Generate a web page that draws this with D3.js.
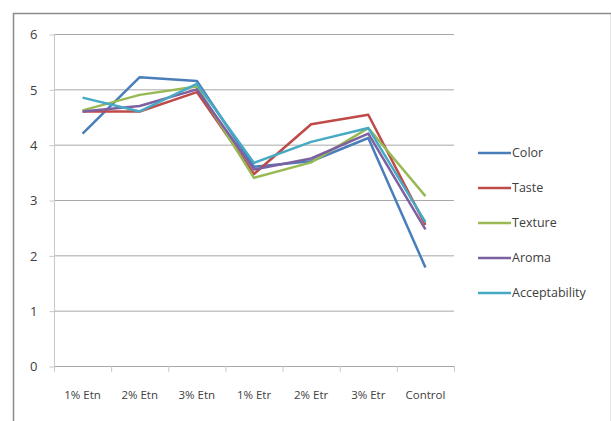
<!DOCTYPE html>
<html><head><meta charset="utf-8">
<script src="https://cdn.jsdelivr.net/npm/d3@7"></script>
<style>body{margin:0;background:#fff}svg{display:block}text{font-family:"Open Sans",sans-serif;fill:#404040}</style>
</head><body>
<script>
const categories = ["1% Etn","2% Etn","3% Etn","1% Etr","2% Etr","3% Etr","Control"];
const seriesNames = ["Color","Taste","Texture","Aroma","Acceptability"];
const colorVals = [4.2, 5.22, 5.15, 3.6, 3.7, 4.12, 1.78];
const tasteVals = [4.6, 4.6, 4.95, 3.47, 4.37, 4.54, 2.55];
const textureVals = [4.62, 4.9, 5.05, 3.4, 3.68, 4.3, 3.07];
const aromaVals = [4.6, 4.7, 5.0, 3.55, 3.75, 4.2, 2.47];
const acceptVals = [4.85, 4.6, 5.1, 3.67, 4.05, 4.3, 2.6];
const yTicks = [0,1,2,3,4,5,6];
const seriesColors = ["#4A7EBB","#BE4B48","#98B954","#7D60A0","#46AAC5"];
const seriesData = [colorVals, tasteVals, textureVals, aromaVals, acceptVals];

const W=611,H=421;
const svg=d3.select("body").append("svg").attr("width",W).attr("height",H);
svg.append("rect").attr("x",13.5).attr("y",13.5).attr("width",W-13).attr("height",H+5)
  .attr("fill","#fff").attr("stroke","#8c8c8c").attr("stroke-width",1.5);

const x=d3.scaleBand().domain(categories).range([54,454]);
const y=d3.scaleLinear().domain([0,6]).range([366,34]);

const g=svg.append("g");
g.selectAll("line.grid").data(yTicks).join("line")
  .attr("x1",54).attr("x2",454).attr("y1",d=>y(d)+0.5).attr("y2",d=>y(d)+0.5)
  .attr("stroke","#a8a8a8").attr("stroke-width",1);
g.append("line").attr("x1",54.5).attr("x2",54.5).attr("y1",y(6)).attr("y2",y(0))
  .attr("stroke","#c8c8c8");
const yAxis=d3.axisLeft(y).tickValues(yTicks).tickSize(5).tickPadding(12).tickFormat(d3.format("d"));
const ya=svg.append("g").attr("transform","translate(54.5,0.5)").call(yAxis);
ya.select(".domain").remove();
ya.selectAll("line").attr("stroke","#c8c8c8");
ya.selectAll("text").style("font-size","13px").attr("fill","#404040");

const xAxis=d3.axisBottom(x).tickSize(0).tickPadding(24);
const xa=svg.append("g").attr("transform","translate(0,366.5)").call(xAxis);
xa.select(".domain").remove();
xa.selectAll("text").style("font-size","11.5px").attr("fill","#404040");
const bounds=categories.map(c=>x(c)).concat([x.range()[1]]);
svg.append("g").selectAll("line").data(bounds).join("line")
  .attr("x1",d=>d+0.5).attr("x2",d=>d+0.5).attr("y1",366).attr("y2",372)
  .attr("stroke","#c8c8c8");

const line=d3.line().x((d,i)=>x(categories[i])+x.bandwidth()/2).y(d=>y(d));
svg.append("g").selectAll("path").data(seriesData).join("path")
  .attr("d",d=>line(d)).attr("fill","none")
  .attr("stroke",(d,i)=>seriesColors[i]).attr("stroke-width",2.5)
  .attr("stroke-linejoin","round");

const lg=svg.append("g");
seriesNames.forEach((n,i)=>{
  const yy=153+i*35;
  lg.append("line").attr("x1",478).attr("x2",511).attr("y1",yy).attr("y2",yy)
    .attr("stroke",seriesColors[i]).attr("stroke-width",2.5);
  lg.append("text").attr("x",512).attr("y",yy).attr("dy","0.35em")
    .style("font-size","12.5px").text(n);
});
</script>
</body></html>
